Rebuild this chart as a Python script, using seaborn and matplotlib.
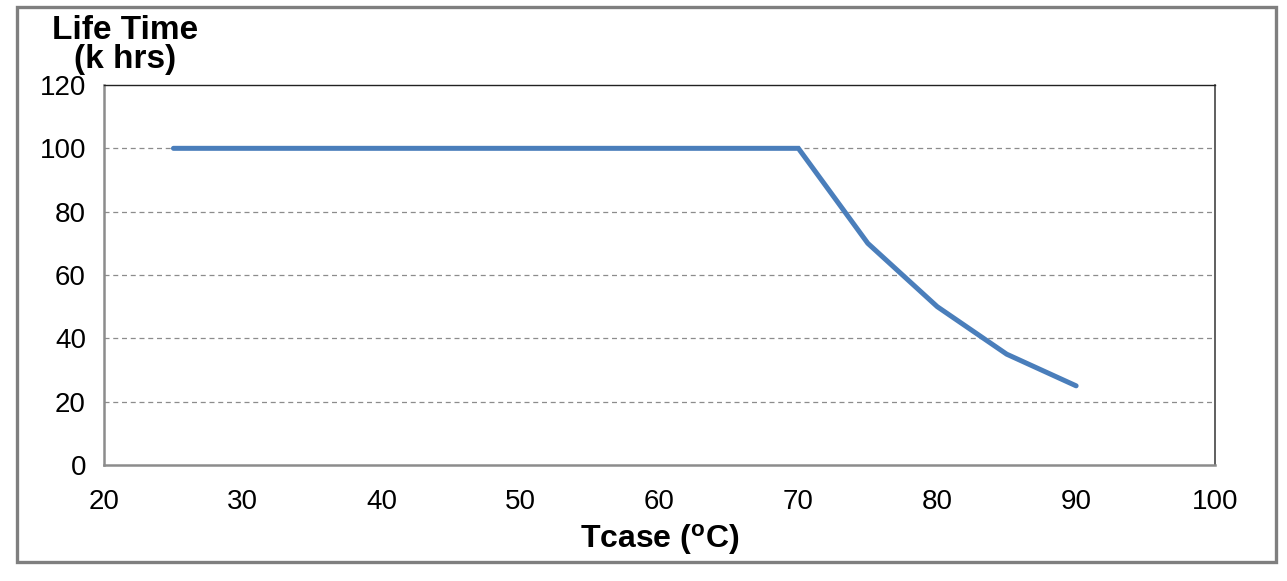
import matplotlib
matplotlib.use("Agg")
import matplotlib.pyplot as plt
import seaborn as sns
import pandas as pd
from matplotlib.patches import Rectangle

# derating curve
tcase = [25, 70, 75, 80, 85, 90]
life_k_hrs = [100, 100, 70, 50, 35, 25]
x_ticks = [20, 30, 40, 50, 60, 70, 80, 90, 100]
y_ticks = [0, 20, 40, 60, 80, 100, 120]

df = pd.DataFrame({"Tcase": tcase, "Life": life_k_hrs})

sns.set_style("white")
plt.rcParams["font.family"] = ["Liberation Sans", "DejaVu Sans"]
plt.rcParams["mathtext.default"] = "regular"

fig = plt.figure(figsize=(12.87, 5.81), dpi=100)
ax = fig.add_axes([104 / 1287, 1 - 465 / 581, (1215 - 104) / 1287, (465 - 85) / 581])

for y in y_ticks[1:-1]:
    ax.axhline(y, color="#8c8c8c", lw=0.9, ls=(0, (4, 3)), zorder=1)

sns.lineplot(data=df, x="Tcase", y="Life", color="#4a7ebb", lw=3.6,
             ax=ax, zorder=3, solid_capstyle="round", solid_joinstyle="miter")

ax.set_xlim(20, 100)
ax.set_ylim(0, 120)
ax.set_xticks(x_ticks)
ax.set_yticks(y_ticks)
ax.tick_params(axis="both", direction="out", length=8, width=1, color="#8c8c8c",
               labelsize=20, labelcolor="black", pad=5)
ax.tick_params(axis="x", pad=9)

for side in ["left", "bottom"]:
    ax.spines[side].set_color("#8c8c8c")
    ax.spines[side].set_linewidth(1.8)
ax.spines["top"].set_color("#222222")
ax.spines["top"].set_linewidth(1.0)
ax.spines["right"].set_color("#444444")
ax.spines["right"].set_linewidth(1.2)

ax.set_xlabel("Tcase ($^{o}$C)", fontsize=23, fontweight="bold", labelpad=5,
              color="black")
ax.set_ylabel("")
fig.text(125 / 1287, 1 - 15 / 581, "Life Time\n(k hrs)", ha="center", va="top",
         fontsize=24, fontweight="bold", linespacing=0.9, color="black")

fig.patches.append(Rectangle((17 / 1287, 1 - 562 / 581), (1276 - 17) / 1287,
                             (562 - 7) / 581, transform=fig.transFigure,
                             fill=False, edgecolor="#7f7f7f", lw=2.4))

fig.savefig("out.png", dpi=100)
